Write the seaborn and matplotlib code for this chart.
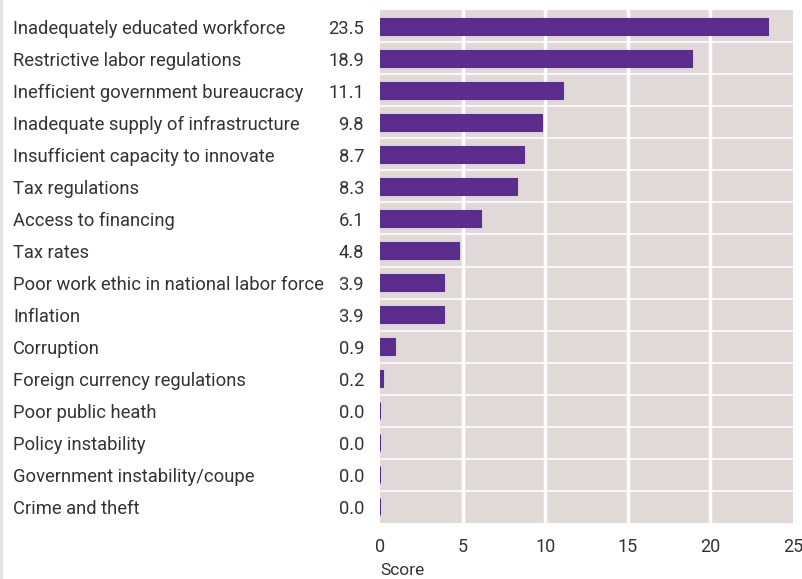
import matplotlib
matplotlib.use("Agg")
import matplotlib.pyplot as plt
import matplotlib.transforms as mtransforms
from matplotlib.patches import Rectangle
import seaborn as sns
import pandas as pd

categories = [
    "Inadequately educated workforce",
    "Restrictive labor regulations",
    "Inefficient government bureaucracy",
    "Inadequate supply of infrastructure",
    "Insufficient capacity to innovate",
    "Tax regulations",
    "Access to financing",
    "Tax rates",
    "Poor work ethic in national labor force",
    "Inflation",
    "Corruption",
    "Foreign currency regulations",
    "Poor public heath",
    "Policy instability",
    "Government instability/coupe",
    "Crime and theft",
]
scores = [23.5, 18.9, 11.1, 9.8, 8.7, 8.3, 6.1, 4.8, 3.9, 3.9, 0.9, 0.2, 0.0, 0.0, 0.0, 0.0]
xticks = [0, 5, 10, 15, 20, 25]

df = pd.DataFrame({"category": categories, "score": scores})

sns.set_theme(style="white")
plt.rcParams["font.family"] = ["Roboto", "DejaVu Sans"]

BAR = "#5b2d8e"
BG = "#e0d9d7"
TXT = "#333333"
FS = 13.2

fig = plt.figure(figsize=(8.02, 5.79), dpi=100)
fig.patch.set_facecolor("white")
ax = fig.add_axes([380 / 802, 1 - 523 / 579, 413 / 802, 513 / 579])
ax.set_facecolor(BG)

sns.barplot(data=df, x="score", y="category", color=BAR, saturation=1,
            width=0.53, ax=ax, edgecolor=BAR, linewidth=0.8)

ax.set_xlim(0, 25)
ax.set_ylim(len(categories) - 0.5, -0.5)
ax.set_xticks(xticks)
ax.set_xticklabels([str(t) for t in xticks], fontsize=13, color=TXT)
ax.tick_params(axis="x", length=0, pad=11)
ax.set_yticks([])
ax.set_ylabel("")
ax.set_xlabel("Score", fontsize=12.5, color=TXT, loc="left", labelpad=4.5)
ax.xaxis.label.set_horizontalalignment("left")

# gridlines
for t in xticks[1:-1]:
    ax.axvline(t, color="white", lw=2.5, zorder=0.5)
for i in range(1, len(categories)):
    ax.axhline(i - 0.5, color="white", lw=1.2, zorder=0.5)
for s in ax.spines.values():
    s.set_visible(False)

trans = mtransforms.blended_transform_factory(fig.transFigure, ax.transData)
trans = trans + mtransforms.ScaledTranslation(0, -2.5 / 100, fig.dpi_scale_trans)
for i, (c, v) in enumerate(zip(categories, scores)):
    ax.text(13 / 802, i, c, transform=trans, ha="left", va="center",
            fontsize=FS, color=TXT)
    ax.text(364 / 802, i, f"{v:.1f}", transform=trans, ha="right", va="center",
            fontsize=FS, color=TXT)

fig.patches.append(Rectangle((0, 0), 3 / 802, 1, transform=fig.transFigure,
                             facecolor="#e6e2e1", edgecolor="none", zorder=-1))

fig.savefig("out.png", dpi=100, facecolor="white")
